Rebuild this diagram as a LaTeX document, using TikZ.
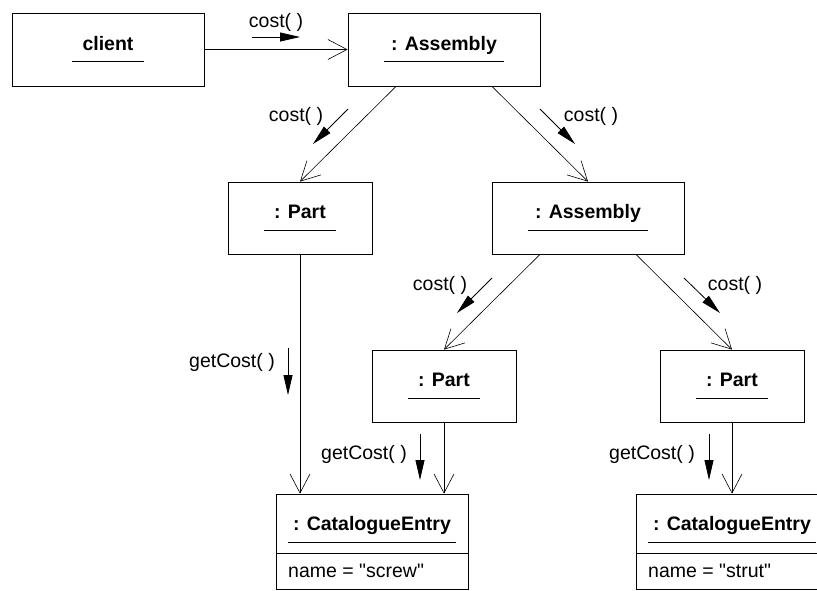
\documentclass[tikz,border=0pt]{standalone}
\usepackage{fontspec}
\setmainfont{Liberation Sans}
\usepackage{tikz}
\usetikzlibrary{positioning, arrows.meta, calc}

\tikzset{
  obj/.style={draw, line width=0.8pt, minimum width=192pt, minimum height=73pt, inner sep=0pt},
  part/.style={obj, minimum width=144pt, minimum height=72pt},
  entry/.style={obj, minimum height=95pt},
  title/.style={anchor=base, inner sep=0pt, font=\fontsize{19.5}{23}\selectfont\bfseries},
  lbl/.style={anchor=base, inner sep=0pt, font=\fontsize{19.5}{23}\selectfont},
  conn/.style={line width=0.6pt, -{Straight Barb[length=19pt,width=20pt]}},
  msg/.style={line width=0.8pt, -{Triangle[length=20pt,width=9pt]}}
}

\begin{document}
\begin{tikzpicture}[x=1pt, y=-1pt]
\useasboundingbox (0,0) rectangle (817,590);

\node[obj] (client) at (108,49.5) {};
\node[title] (clientT) at (108,50) {client};
\draw (72,61) -- (144,61);

\node[obj] (asmA) at (444,49.5) {};
\node[title] (asmAT) at (444,50) {: Assembly};
\draw (384,61) -- (504,61);

\node[part] (partA) at (300,218) {};
\node[title] (partAT) at (300,218) {: Part};
\draw (264,230) -- (336,230);

\node[obj, minimum height=72pt] (asmB) at (588,218) {};
\node[title] (asmBT) at (588,218) {: Assembly};
\draw (528,230) -- (648,230);

\node[part] (partB) at (444,386) {};
\node[title] (partBT) at (444,386) {: Part};
\draw (408,398) -- (480,398);

\node[part] (partC) at (732,386) {};
\node[title] (partCT) at (732,386) {: Part};
\draw (696,398) -- (768,398);

\node[entry] (entryA) at (372,541.5) {};
\node[title] (entryAT) at (372,530) {: CatalogueEntry};
\draw (288,542) -- (456,542);
\draw[line width=0.8pt] (276,553) -- (468,553);
\node[lbl, anchor=base west] (entryAV) at (288,577) {name = \textquotedbl screw\textquotedbl};

\node[entry] (entryB) at (732,541.5) {};
\node[title] (entryBT) at (732,530) {: CatalogueEntry};
\draw (648,542) -- (816,542);
\draw[line width=0.8pt] (636,553) -- (828,553);
\node[lbl, anchor=base west] (entryBV) at (648,577) {name = \textquotedbl strut\textquotedbl};

\draw[conn] (client.east) -- (asmA.west);
\draw[conn] ([xshift=-48pt]asmA.south) -- (partA.north);
\draw[conn] ([xshift=48pt]asmA.south) -- (asmB.north);
\draw[conn] ([xshift=-48pt]asmB.south) -- (partB.north);
\draw[conn] ([xshift=48pt]asmB.south) -- (partC.north);
\draw[conn] (partA.south) -- (partA.south |- entryA.north);
\draw[conn] (partB.south) -- (partB.south |- entryA.north);
\draw[conn] (partC.south) -- (entryB.north);

\node[lbl] (cost1) at (276,27) {cost( )};
\draw[msg] (252,37) -- (300,37);
\node[lbl] (cost2) at (296,121) {cost( )};
\draw[msg] (348,109) -- (313,144);
\node[lbl] (cost3) at (591,121) {cost( )};
\draw[msg] (540,109) -- (575,144);
\node[lbl] (cost4) at (440,290) {cost( )};
\draw[msg] (492,278) -- (457,313);
\node[lbl] (cost5) at (735,290) {cost( )};
\draw[msg] (684,278) -- (720,313);

\node[lbl] (get1) at (232,367) {getCost( )};
\draw[msg] (288,348) -- (288,395);
\node[lbl] (get2) at (364,459) {getCost( )};
\draw[msg] (420,434) -- (420,480);
\node[lbl] (get3) at (652,459) {getCost( )};
\draw[msg] (709,434) -- (709,480);
\end{tikzpicture}
\end{document}
